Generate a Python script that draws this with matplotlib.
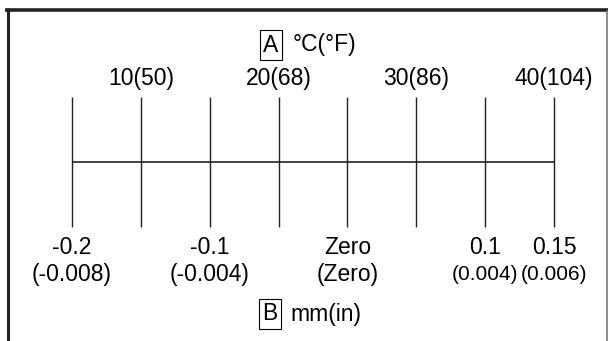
import matplotlib.pyplot as plt

# temperature scale (top) and offset scale (bottom), both placed on a °C axis
grid_c = [5, 10, 15, 20, 25, 30, 35, 40]
top_c = [10, 20, 30, 40]
top_labels = ['10(50)', '20(68)', '30(86)', '40(104)']
bottom_c = [5, 15, 25, 35, 40]
mm_labels = ['-0.2', '-0.1', 'Zero', '0.1', '0.15']
in_labels = ['(-0.008)', '(-0.004)', '(Zero)', '(0.004)', '(0.006)']
in_small = [False, False, False, True, True]

plt.rcParams['font.family'] = ['Liberation Sans', 'DejaVu Sans']

W, H = 608, 341
FS = 16.5
fig = plt.figure(figsize=(W / 100, H / 100), dpi=100)

# frame / headers in pixel units
frame = fig.add_axes([0, 0, 1, 1])
frame.set_xlim(0, W)
frame.set_ylim(H, 0)
frame.axis('off')
frame.plot([5, W], [9.5, 9.5], color='#222222', lw=2.6, solid_capstyle='butt')
frame.plot([8, 8], [8, H], color='#222222', lw=2.2, solid_capstyle='butt')
frame.plot([606.5, 606.5], [10, H], color='#777777', lw=1.2, solid_capstyle='butt')

box = dict(boxstyle='square,pad=0.15', fc='none', ec='black', lw=0.8)
frame.text(271, 45, 'A', ha='center', va='center', fontsize=FS, bbox=box)
frame.text(293, 45, '°C(°F)', ha='left', va='center', fontsize=FS)
frame.text(270, 314, 'B', ha='center', va='center', fontsize=FS, bbox=box)
frame.text(290, 314, 'mm(in)', ha='left', va='center', fontsize=FS)

# scale axes: x in °C, y in pixels from top
ax = fig.add_axes([72 / W, 0, 482 / W, 1])
ax.set_xlim(5, 40)
ax.set_ylim(H, 0)
ax.axis('off')
ax.vlines(grid_c, 97, 227, color='#222222', lw=1.0, clip_on=False)
ax.hlines(162, grid_c[0], grid_c[-1], color='#222222', lw=1.2, clip_on=False)

for c, lab in zip(top_c, top_labels):
    ax.text(c, 79, lab, ha='center', va='center', fontsize=FS, clip_on=False)

for c, mm, inch, small in zip(bottom_c, mm_labels, in_labels, in_small):
    ax.text(c, 248, mm, ha='center', va='center', fontsize=FS, clip_on=False)
    ax.text(c, 275, inch, ha='center', va='center',
            fontsize=15 if small else FS, clip_on=False)

fig.savefig('out.png', dpi=100)
